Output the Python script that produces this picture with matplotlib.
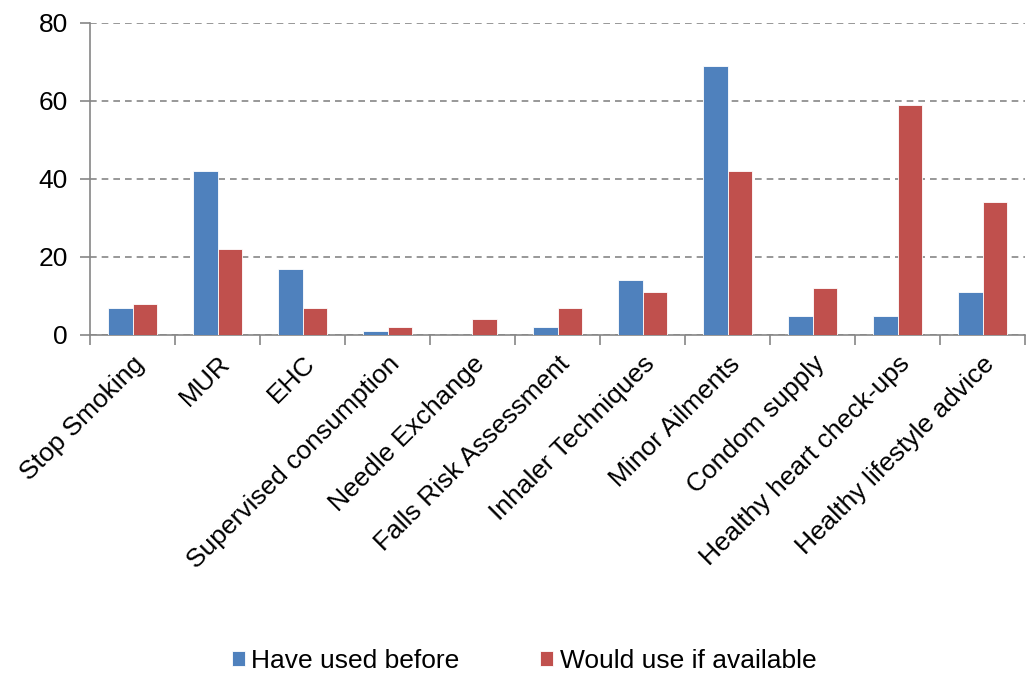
import matplotlib
matplotlib.use("Agg")
import matplotlib.pyplot as plt
import matplotlib.transforms as mtransforms
import numpy as np

categories = ["Stop Smoking", "MUR", "EHC", "Supervised consumption", "Needle Exchange",
              "Falls Risk Assessment", "Inhaler Techniques", "Minor Ailments",
              "Condom supply", "Healthy heart check-ups", "Healthy lifestyle advice"]
used_before = [7, 42, 17, 1, 0, 2, 14, 69, 5, 5, 11]
would_use = [8, 22, 7, 2, 4, 7, 11, 42, 12, 59, 34]
series_names = ["Have used before", "Would use if available"]
y_ticks = [0, 20, 40, 60, 80]

plt.rcParams['font.family'] = ['Liberation Sans', 'DejaVu Sans']
FS = 19

fig = plt.figure(figsize=(10.31, 6.73), dpi=100)
ax = fig.add_axes([90 / 1031, 1 - 335 / 673, (1025 - 90) / 1031, (335 - 23) / 673])

x = np.arange(len(categories))
w = 0.29
ax.bar(x - w / 2, used_before, w, color="#4F81BD", edgecolor="white", linewidth=0.6,
       label=series_names[0], zorder=3)
ax.bar(x + w / 2, would_use, w, color="#C0504D", edgecolor="white", linewidth=0.6,
       label=series_names[1], zorder=3)

ax.set_xlim(-0.5, len(categories) - 0.5)
ax.set_ylim(0, 80)
ax.set_yticks(y_ticks)
ax.yaxis.grid(True, linestyle=(0, (4, 3)), color="#868686", linewidth=1.2, zorder=0)

ax.set_xticks(x)
ax.set_xticklabels(categories, rotation=45, ha="right", va="top", rotation_mode="anchor",
                   fontsize=FS)
shift = mtransforms.ScaledTranslation(-6 / 100, 0, fig.dpi_scale_trans)
for lbl in ax.get_xticklabels():
    lbl.set_transform(lbl.get_transform() + shift)
ax.set_xticks(np.arange(-0.5, len(categories)), minor=True)
ax.tick_params(axis="x", which="major", length=0, pad=12)
ax.tick_params(axis="x", which="minor", length=7, width=1.2, color="#868686", direction="out")
ax.tick_params(axis="y", length=7, width=1.2, color="#868686", labelsize=FS, pad=9)

for side in ("top", "right"):
    ax.spines[side].set_visible(False)
for side in ("left", "bottom"):
    ax.spines[side].set_color("#868686")
    ax.spines[side].set_linewidth(1.2)

fig.legend(loc="center", bbox_to_anchor=(524 / 1031, 1 - 661 / 673), ncol=2, frameon=False,
           fontsize=FS, handlelength=0.5, handleheight=0.5, handletextpad=0.25,
           columnspacing=3.05)

fig.savefig("out.png", dpi=100)
